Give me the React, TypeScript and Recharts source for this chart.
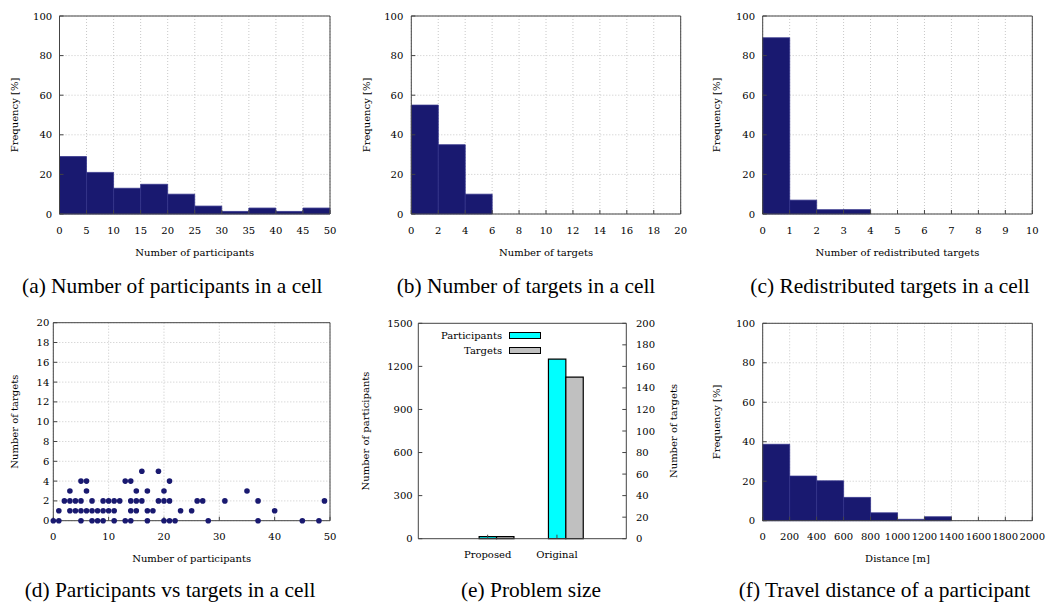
import React from 'react';
import {
  BarChart,
  Bar,
  ScatterChart,
  Scatter,
  XAxis,
  YAxis,
  CartesianGrid,
  Legend,
} from 'recharts';

const NAVY = '#191970';
const INK = '#000';
const FRAME = '#444';
const GRID = '#c8c8c8';
const TICK_FONT = 'DejaVu Serif';
const CAPTION_FONT = 'Liberation Serif';

const freqTicks = [0, 20, 40, 60, 80, 100];

// (a) participants in a cell, bins of 5
const participantBins = [0, 5, 10, 15, 20, 25, 30, 35, 40, 45];
const participantFreq = [29, 21, 13, 15, 10, 4, 1.3, 3, 1.3, 3];
const participantTicks = [0, 5, 10, 15, 20, 25, 30, 35, 40, 45, 50];

// (b) targets in a cell, bins of 2
const targetBins = [0, 2, 4, 6, 8, 10, 12, 14, 16, 18];
const targetFreq = [55, 35, 10, 0, 0, 0, 0, 0, 0, 0];
const targetTicks = [0, 2, 4, 6, 8, 10, 12, 14, 16, 18, 20];

// (c) redistributed targets, bins of 1
const redistBins = [0, 1, 2, 3, 4, 5, 6, 7, 8, 9];
const redistFreq = [89, 7, 2.2, 2.2, 0, 0, 0, 0, 0, 0];
const redistTicks = [0, 1, 2, 3, 4, 5, 6, 7, 8, 9, 10];

// (f) travel distance, bins of 200 m
const distanceBins = [0, 200, 400, 600, 800, 1000, 1200, 1400, 1600, 1800];
const distanceFreq = [38.7, 22.6, 20.2, 11.8, 4, 0.7, 2, 0, 0, 0];
const distanceTicks = [0, 200, 400, 600, 800, 1000, 1200, 1400, 1600, 1800, 2000];

// (d) one point per cell
const cellParticipants = [
  0, 1, 5, 7, 8, 9, 11, 13, 14, 17, 20, 21, 22, 28, 37, 45, 48,
  1, 3, 4, 5, 6, 7, 8, 9, 10, 11, 14, 15, 17, 18, 23, 25, 40,
  2, 3, 4, 5, 7, 9, 10, 11, 12, 14, 15, 16, 19, 20, 21, 26, 27, 31, 37, 49,
  3, 6, 15, 17, 20, 35,
  5, 6, 13, 14, 21,
  16, 19,
];
const cellTargets = [
  0, 0, 0, 0, 0, 0, 0, 0, 0, 0, 0, 0, 0, 0, 0, 0, 0,
  1, 1, 1, 1, 1, 1, 1, 1, 1, 1, 1, 1, 1, 1, 1, 1, 1,
  2, 2, 2, 2, 2, 2, 2, 2, 2, 2, 2, 2, 2, 2, 2, 2, 2, 2, 2, 2,
  3, 3, 3, 3, 3, 3,
  4, 4, 4, 4, 4,
  5, 5,
];
const scatterXTicks = [0, 10, 20, 30, 40, 50];
const scatterYTicks = [0, 2, 4, 6, 8, 10, 12, 14, 16, 18, 20];

// (e) problem size
const sizeCategories = ['Proposed', 'Original'];
const sizeParticipants = [15, 1250];
const sizeTargets = [2, 150];
const sizeParticipantTicks = [0, 300, 600, 900, 1200, 1500];
const sizeTargetTicks = [0, 20, 40, 60, 80, 100, 120, 140, 160, 180, 200];

const captions = [
  { text: '(a) Number of participants in a cell', x: 172.3, y: 292.7 },
  { text: '(b) Number of targets in a cell', x: 526, y: 292.7 },
  { text: '(c) Redistributed targets in a cell', x: 890, y: 292.7 },
  { text: '(d) Participants vs targets in a cell', x: 170, y: 596.5 },
  { text: '(e) Problem size', x: 531, y: 597 },
  { text: '(f) Travel distance of a participant', x: 884.5, y: 596.5 },
];

type Box = { x: number; y: number; w: number; h: number };
type Plot = { l: number; t: number; r: number; b: number };

const tickStyle = { fill: INK, fontSize: 10, fontFamily: TICK_FONT };
const labelStyle = { fill: INK, fontSize: 10, fontFamily: TICK_FONT };
const X_AXIS_H = 41.5;
const TICK = -4;
const X_TICK_MARGIN = 16.5;

// mirror axes are 1px tall/wide, so take them off the margin
function frameMargin(box: Box, plot: Plot, bottomAxis: number) {
  return {
    top: plot.t - box.y - 1,
    right: box.x + box.w - plot.r - 1,
    bottom: box.y + box.h - plot.b - bottomAxis,
    left: 0,
  };
}

function Panel({ box, children }: { box: Box; children: React.ReactNode }) {
  return <div style={{ position: 'absolute', left: box.x, top: box.y }}>{children}</div>;
}

function yLabel(value: string, offset: number, position = 'insideLeft') {
  return {
    value,
    angle: -90,
    position,
    offset,
    style: { textAnchor: 'middle' },
    ...labelStyle,
  };
}

type HistProps = {
  box: Box;
  plot: Plot;
  bins: number[];
  freq: number[];
  ticks: number[];
  xLabel: string;
  yTickMargin: number;
  yLabelX: number;
};

function Histogram({ box, plot, bins, freq, ticks, xLabel, yTickMargin, yLabelX }: HistProps) {
  const step = ticks[1] - ticks[0];
  const data = bins.map((start, i) => ({ mid: start + step / 2, freq: freq[i] }));
  const xDomain = [ticks[0], ticks[ticks.length - 1]];
  return (
    <Panel box={box}>
      <BarChart
        width={box.w}
        height={box.h}
        data={data}
        margin={frameMargin(box, plot, X_AXIS_H)}
        barCategoryGap={0}
        barGap={0}
      >
        <CartesianGrid stroke={GRID} strokeDasharray="1 2" />
        <Bar dataKey="freq" fill={NAVY} stroke="#34348a" strokeWidth={0.8} isAnimationActive={false} />
        <XAxis
          type="number"
          dataKey="mid"
          domain={xDomain}
          ticks={ticks}
          interval={0}
          height={X_AXIS_H}
          tickSize={TICK}
          tickMargin={X_TICK_MARGIN}
          stroke={FRAME}
          tick={tickStyle}
          label={{ value: xLabel, position: 'insideBottom', offset: 0, ...labelStyle }}
        />
        <XAxis
          xAxisId="top"
          orientation="top"
          type="number"
          domain={xDomain}
          ticks={ticks}
          interval={0}
          height={1}
          tick={false}
          tickSize={TICK}
          stroke={FRAME}
        />
        <YAxis
          type="number"
          domain={[0, 100]}
          ticks={freqTicks}
          interval={0}
          width={plot.l - box.x}
          tickSize={TICK}
          tickMargin={yTickMargin}
          stroke={FRAME}
          tick={tickStyle}
          label={yLabel('Frequency [%]', yLabelX - box.x)}
        />
        <YAxis
          yAxisId="right"
          orientation="right"
          type="number"
          domain={[0, 100]}
          ticks={freqTicks}
          interval={0}
          width={1}
          tick={false}
          tickSize={TICK}
          stroke={FRAME}
        />
      </BarChart>
    </Panel>
  );
}

function CellScatter() {
  const box = { x: 0, y: 300, w: 350, h: 275 };
  const plot = { l: 53.3, t: 322.7, r: 330, b: 520.7 };
  const cells = cellParticipants.map((p, i) => ({ x: p, y: cellTargets[i] }));
  const xDomain = [0, 50];
  const yDomain = [0, 20];
  return (
    <Panel box={box}>
      <ScatterChart width={box.w} height={box.h} margin={frameMargin(box, plot, X_AXIS_H)}>
        <CartesianGrid stroke={GRID} strokeDasharray="1 2" />
        <XAxis
          type="number"
          dataKey="x"
          domain={xDomain}
          ticks={scatterXTicks}
          interval={0}
          height={X_AXIS_H}
          tickSize={TICK}
          tickMargin={X_TICK_MARGIN}
          stroke={FRAME}
          tick={tickStyle}
          label={{ value: 'Number of participants', position: 'insideBottom', offset: 0, ...labelStyle }}
        />
        <XAxis
          xAxisId="top"
          orientation="top"
          type="number"
          domain={xDomain}
          ticks={scatterXTicks}
          interval={0}
          height={1}
          tick={false}
          tickSize={TICK}
          stroke={FRAME}
        />
        <YAxis
          type="number"
          dataKey="y"
          domain={yDomain}
          ticks={scatterYTicks}
          interval={0}
          width={plot.l - box.x}
          tickSize={TICK}
          tickMargin={8}
          stroke={FRAME}
          tick={tickStyle}
          label={yLabel('Number of targets', 14 - box.x)}
        />
        <YAxis
          yAxisId="right"
          orientation="right"
          type="number"
          domain={yDomain}
          ticks={scatterYTicks}
          interval={0}
          width={1}
          tick={false}
          tickSize={TICK}
          stroke={FRAME}
        />
        <Scatter
          data={cells}
          fill={NAVY}
          isAnimationActive={false}
          shape={(p: any) => <circle cx={p.cx} cy={p.cy} r={2.8} fill={NAVY} />}
        />
      </ScatterChart>
    </Panel>
  );
}

function SizeLegend({ payload }: any) {
  return (
    <div>
      {(payload || []).map((entry: any) => (
        <div
          key={entry.value}
          style={{ display: 'flex', justifyContent: 'flex-end', alignItems: 'center', height: 15 }}
        >
          <span style={{ fontFamily: TICK_FONT, fontSize: 10, color: INK, marginRight: 6.6 }}>
            {entry.value}
          </span>
          <span
            style={{
              display: 'inline-block',
              width: 32,
              height: 7,
              background: entry.color,
              border: '1.2px solid #000',
              boxSizing: 'border-box',
            }}
          />
        </div>
      ))}
    </div>
  );
}

function ProblemSize() {
  const box = { x: 350, y: 300, w: 350, h: 275 };
  const plot = { l: 418.3, t: 323.3, r: 626.3, b: 538.7 };
  const data = sizeCategories.map((name, i) => ({
    name,
    participants: sizeParticipants[i],
    targets: sizeTargets[i],
  }));
  const pad = { left: 34.7, right: 34.7 };
  // participants bar sits on the tick, targets bar to its right
  const barPad = { left: 34.7 + 9.15, right: 34.7 - 9.15 };
  const rightW = box.x + box.w - plot.r;
  return (
    <Panel box={box}>
      <BarChart
        width={box.w}
        height={box.h}
        data={data}
        margin={{ top: plot.t - box.y - 1, right: 0, left: 0, bottom: box.y + box.h - plot.b - 30 }}
        barGap={0}
      >
        <XAxis
          dataKey="name"
          padding={pad}
          interval={0}
          height={30}
          tickSize={TICK}
          tickMargin={X_TICK_MARGIN}
          stroke={FRAME}
          tick={tickStyle}
        />
        <XAxis xAxisId="bars" dataKey="name" padding={barPad} hide />
        <XAxis
          xAxisId="top"
          orientation="top"
          dataKey="name"
          padding={pad}
          interval={0}
          height={1}
          tick={false}
          tickSize={TICK}
          stroke={FRAME}
        />
        <YAxis
          yAxisId="left"
          type="number"
          domain={[0, 1500]}
          ticks={sizeParticipantTicks}
          interval={0}
          width={plot.l - box.x}
          tickSize={TICK}
          tickMargin={9.6}
          stroke={FRAME}
          tick={tickStyle}
          label={yLabel('Number of participants', 365.7 - box.x)}
        />
        <YAxis
          yAxisId="right"
          orientation="right"
          type="number"
          domain={[0, 200]}
          ticks={sizeTargetTicks}
          interval={0}
          width={rightW}
          tickSize={TICK}
          tickMargin={13.7}
          stroke={FRAME}
          tick={tickStyle}
          label={yLabel('Number of targets', box.x + box.w - 673.3, 'insideRight')}
        />
        <Bar
          xAxisId="bars"
          yAxisId="left"
          dataKey="participants"
          name="Participants"
          fill="#00ffff"
          stroke="#000"
          strokeWidth={1.2}
          barSize={17.4}
          isAnimationActive={false}
        />
        <Bar
          xAxisId="bars"
          yAxisId="right"
          dataKey="targets"
          name="Targets"
          fill="#c0c0c0"
          stroke="#000"
          strokeWidth={1.2}
          barSize={17.4}
          isAnimationActive={false}
        />
        <Legend
          layout="horizontal"
          verticalAlign="middle"
          align="center"
          wrapperStyle={{ left: 59.7, top: 28.3, width: 131, height: 30 }}
          content={<SizeLegend />}
        />
      </BarChart>
    </Panel>
  );
}

export default function App() {
  return (
    <div
      style={{
        position: 'absolute',
        left: 0,
        top: 0,
        width: 1046,
        height: 603,
        overflow: 'hidden',
        background: '#fff',
      }}
    >
      <Histogram
        box={{ x: 0, y: 0, w: 350, h: 265 }}
        plot={{ l: 59.5, t: 16, r: 330, b: 214 }}
        bins={participantBins}
        freq={participantFreq}
        ticks={participantTicks}
        xLabel="Number of participants"
        yTickMargin={11.3}
        yLabelX={14}
      />
      <Histogram
        box={{ x: 350, y: 0, w: 350, h: 265 }}
        plot={{ l: 411.3, t: 16, r: 680.7, b: 214 }}
        bins={targetBins}
        freq={targetFreq}
        ticks={targetTicks}
        xLabel="Number of targets"
        yTickMargin={12}
        yLabelX={366}
      />
      <Histogram
        box={{ x: 700, y: 0, w: 346, h: 265 }}
        plot={{ l: 762.7, t: 16, r: 1032.3, b: 214 }}
        bins={redistBins}
        freq={redistFreq}
        ticks={redistTicks}
        xLabel="Number of redistributed targets"
        yTickMargin={11.7}
        yLabelX={716}
      />
      <CellScatter />
      <ProblemSize />
      <Histogram
        box={{ x: 700, y: 300, w: 346, h: 275 }}
        plot={{ l: 762.7, t: 323.3, r: 1032.3, b: 520.7 }}
        bins={distanceBins}
        freq={distanceFreq}
        ticks={distanceTicks}
        xLabel="Distance [m]"
        yTickMargin={11.7}
        yLabelX={716.7}
      />
      <svg
        width={1046}
        height={603}
        style={{ position: 'absolute', left: 0, top: 0, pointerEvents: 'none' }}
      >
        {captions.map((c) => (
          <text
            key={c.text}
            x={c.x}
            y={c.y}
            textAnchor="middle"
            fontFamily={CAPTION_FONT}
            fontSize={21.4}
            fill={INK}
          >
            {c.text}
          </text>
        ))}
      </svg>
    </div>
  );
}
